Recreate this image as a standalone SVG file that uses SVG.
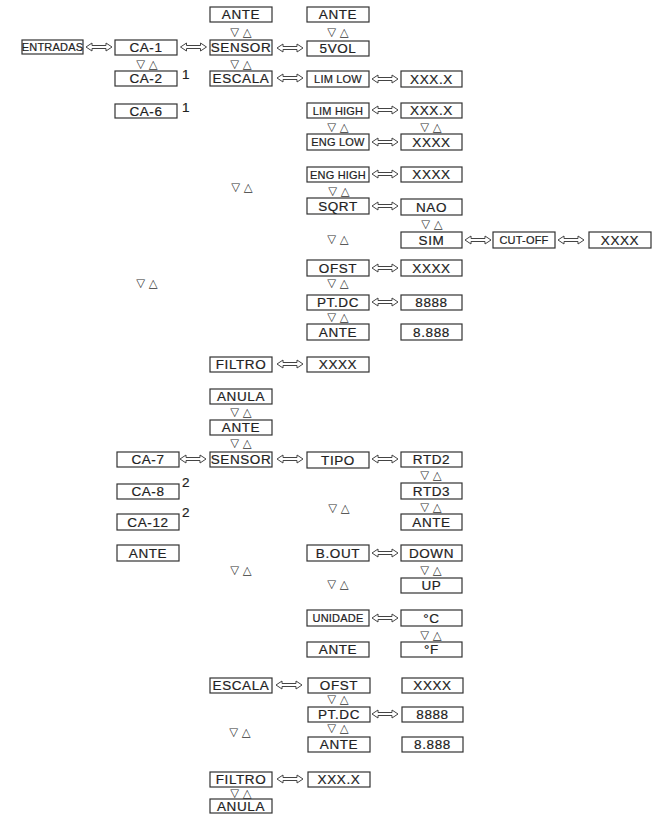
<svg xmlns="http://www.w3.org/2000/svg" xmlns:xlink="http://www.w3.org/1999/xlink" width="660" height="817" viewBox="0 0 660 817">
<style>
.b{fill:#fff;stroke:#333;stroke-width:1.2}
.t{font-family:"Liberation Sans",Arial,sans-serif;font-size:13.5px;fill:#222;stroke:#222;stroke-width:0.2px;text-anchor:middle;letter-spacing:0.6px}
.s{font-size:11px;letter-spacing:0.2px;stroke-width:0.2px}
.tri{font-family:"DejaVu Sans",sans-serif;font-size:11.5px;fill:#333;text-anchor:middle}
.sup{font-family:"Liberation Sans",Arial,sans-serif;font-size:13.5px;fill:#222;stroke:#222;stroke-width:0.2px}
.a{fill:#fff;stroke:#444;stroke-width:1}
</style>
<defs>
<path id="arr" class="a" d="M-13,0 L-7,-4 L-7,-1.5 L7,-1.5 L7,-4 L13,0 L7,4 L7,1.5 L-7,1.5 L-7,4 Z"/>
</defs>
<rect width="660" height="817" fill="#fff"/>

<g id="connectors">
<use xlink:href="#arr" transform="translate(99,47)"/>
<use xlink:href="#arr" transform="translate(193.5,47)"/>
<use xlink:href="#arr" transform="translate(290,48)"/>
<use xlink:href="#arr" transform="translate(290,78)"/>
<use xlink:href="#arr" transform="translate(385,79)"/>
<use xlink:href="#arr" transform="translate(385,110)"/>
<use xlink:href="#arr" transform="translate(385,142)"/>
<use xlink:href="#arr" transform="translate(385,174)"/>
<use xlink:href="#arr" transform="translate(385,206)"/>
<use xlink:href="#arr" transform="translate(478,240)"/>
<use xlink:href="#arr" transform="translate(571,240)"/>
<use xlink:href="#arr" transform="translate(385,268)"/>
<use xlink:href="#arr" transform="translate(385,302)"/>
<use xlink:href="#arr" transform="translate(290,364)"/>
<use xlink:href="#arr" transform="translate(193,459)"/>
<use xlink:href="#arr" transform="translate(290,459)"/>
<use xlink:href="#arr" transform="translate(385,459)"/>
<use xlink:href="#arr" transform="translate(385,553)"/>
<use xlink:href="#arr" transform="translate(385,618)"/>
<use xlink:href="#arr" transform="translate(289,685)"/>
<use xlink:href="#arr" transform="translate(385,714)"/>
<use xlink:href="#arr" transform="translate(290,779)"/>
</g>

<g id="updown">
<text class="tri" x="241" y="36">▽ △</text>
<text class="tri" x="338" y="36">▽ △</text>
<text class="tri" x="147" y="68">▽ △</text>
<text class="tri" x="241" y="68">▽ △</text>
<text class="tri" x="338" y="131">▽ △</text>
<text class="tri" x="431" y="131">▽ △</text>
<text class="tri" x="242" y="191">▽ △</text>
<text class="tri" x="339" y="195">▽ △</text>
<text class="tri" x="432" y="228">▽ △</text>
<text class="tri" x="338" y="243">▽ △</text>
<text class="tri" x="147" y="287">▽ △</text>
<text class="tri" x="338" y="287">▽ △</text>
<text class="tri" x="338" y="321">▽ △</text>
<text class="tri" x="241" y="416">▽ △</text>
<text class="tri" x="241" y="447">▽ △</text>
<text class="tri" x="431" y="479">▽ △</text>
<text class="tri" x="431" y="511">▽ △</text>
<text class="tri" x="339" y="512">▽ △</text>
<text class="tri" x="241" y="574">▽ △</text>
<text class="tri" x="431" y="574">▽ △</text>
<text class="tri" x="338" y="588">▽ △</text>
<text class="tri" x="431" y="639">▽ △</text>
<text class="tri" x="338" y="703">▽ △</text>
<text class="tri" x="338" y="732">▽ △</text>
<text class="tri" x="240" y="736">▽ △</text>
<text class="tri" x="241" y="797">▽ △</text>
</g>

<g id="n_ante1"><rect class="b" x="210" y="7" width="62" height="15"/><text class="t" x="241" y="19.4">ANTE</text></g>
<g id="n_ante2"><rect class="b" x="307" y="7" width="62" height="15"/><text class="t" x="338" y="19.4">ANTE</text></g>
<g id="n_entradas"><rect class="b" x="22" y="40" width="61" height="14"/><text class="t s" x="52.5" y="51">ENTRADAS</text></g>
<g id="n_ca1"><rect class="b" x="115" y="40" width="62" height="15"/><text class="t" x="146" y="52.4">CA-1</text></g>
<g id="n_sensor1"><rect class="b" x="210" y="40" width="62" height="15"/><text class="t" x="241" y="52.4">SENSOR</text></g>
<g id="n_5vol"><rect class="b" x="307" y="41" width="62" height="15"/><text class="t" x="338" y="53.4">5VOL</text></g>
<g id="n_ca2"><rect class="b" x="115" y="71" width="62" height="15"/><text class="t" x="146" y="83.4">CA-2</text><text class="sup" x="182" y="79">1</text></g>
<g id="n_escala1"><rect class="b" x="210" y="71" width="62" height="15"/><text class="t" x="241" y="83.4">ESCALA</text></g>
<g id="n_limlow"><rect class="b" x="307" y="71" width="62" height="16"/><text class="t s" x="338" y="83">LIM LOW</text></g>
<g id="n_limlow_v"><rect class="b" x="401" y="71" width="61" height="16"/><text class="t" x="431.5" y="83.8">XXX.X</text></g>
<g id="n_ca6"><rect class="b" x="115" y="104" width="62" height="14"/><text class="t" x="146" y="115.9">CA-6</text><text class="sup" x="182" y="112">1</text></g>
<g id="n_limhigh"><rect class="b" x="307" y="103" width="62" height="15"/><text class="t s" x="338" y="114.5">LIM HIGH</text></g>
<g id="n_limhigh_v"><rect class="b" x="401" y="103" width="61" height="15"/><text class="t" x="431.5" y="115.4">XXX.X</text></g>
<g id="n_englow"><rect class="b" x="307" y="134" width="62" height="16"/><text class="t s" x="338" y="146">ENG LOW</text></g>
<g id="n_englow_v"><rect class="b" x="401" y="134" width="61" height="16"/><text class="t" x="431.5" y="146.8">XXXX</text></g>
<g id="n_enghigh"><rect class="b" x="307" y="167" width="62" height="15"/><text class="t s" x="338" y="178.5">ENG HIGH</text></g>
<g id="n_enghigh_v"><rect class="b" x="401" y="167" width="61" height="15"/><text class="t" x="431.5" y="179.4">XXXX</text></g>
<g id="n_sqrt"><rect class="b" x="307" y="198" width="62" height="16"/><text class="t" x="338" y="210.8">SQRT</text></g>
<g id="n_nao"><rect class="b" x="401" y="199" width="61" height="16"/><text class="t" x="431.5" y="211.8">NAO</text></g>
<g id="n_sim"><rect class="b" x="401" y="232" width="61" height="16"/><text class="t" x="431.5" y="244.8">SIM</text></g>
<g id="n_cutoff"><rect class="b" x="493" y="232" width="62" height="16"/><text class="t s" x="524" y="244">CUT-OFF</text></g>
<g id="n_cutoff_v"><rect class="b" x="589" y="232" width="62" height="16"/><text class="t" x="620" y="244.8">XXXX</text></g>
<g id="n_ofst1"><rect class="b" x="307" y="260" width="62" height="16"/><text class="t" x="338" y="272.8">OFST</text></g>
<g id="n_ofst1_v"><rect class="b" x="401" y="260" width="61" height="16"/><text class="t" x="431.5" y="272.8">XXXX</text></g>
<g id="n_ptdc1"><rect class="b" x="307" y="295" width="62" height="15"/><text class="t" x="338" y="307.4">PT.DC</text></g>
<g id="n_ptdc1_v"><rect class="b" x="401" y="295" width="61" height="15"/><text class="t" x="431.5" y="307.4">8888</text></g>
<g id="n_ante3"><rect class="b" x="307" y="324" width="62" height="16"/><text class="t" x="338" y="336.8">ANTE</text></g>
<g id="n_8888b"><rect class="b" x="401" y="324" width="61" height="16"/><text class="t" x="431.5" y="336.8">8.888</text></g>
<g id="n_filtro1"><rect class="b" x="210" y="357" width="62" height="15"/><text class="t" x="241" y="369.4">FILTRO</text></g>
<g id="n_filtro1_v"><rect class="b" x="307" y="357" width="62" height="15"/><text class="t" x="338" y="369.4">XXXX</text></g>
<g id="n_anula1"><rect class="b" x="210" y="389" width="62" height="15"/><text class="t" x="241" y="401.4">ANULA</text></g>
<g id="n_ante4"><rect class="b" x="210" y="420" width="62" height="15"/><text class="t" x="241" y="432.4">ANTE</text></g>
<g id="n_ca7"><rect class="b" x="117" y="452" width="62" height="15"/><text class="t" x="148" y="464.4">CA-7</text></g>
<g id="n_sensor2"><rect class="b" x="210" y="452" width="62" height="15"/><text class="t" x="241" y="464.4">SENSOR</text></g>
<g id="n_tipo"><rect class="b" x="307" y="452" width="62" height="16"/><text class="t" x="338" y="464.8">TIPO</text></g>
<g id="n_rtd2"><rect class="b" x="401" y="452" width="61" height="15"/><text class="t" x="431.5" y="464.4">RTD2</text></g>
<g id="n_ca8"><rect class="b" x="117" y="484" width="62" height="15"/><text class="t" x="148" y="496.4">CA-8</text><text class="sup" x="182" y="487">2</text></g>
<g id="n_rtd3"><rect class="b" x="401" y="483" width="61" height="16"/><text class="t" x="431.5" y="495.8">RTD3</text></g>
<g id="n_ca12"><rect class="b" x="117" y="514" width="62" height="16"/><text class="t" x="148" y="526.8">CA-12</text><text class="sup" x="182" y="517">2</text></g>
<g id="n_ante5"><rect class="b" x="401" y="514" width="61" height="16"/><text class="t" x="431.5" y="526.8">ANTE</text></g>
<g id="n_ante6"><rect class="b" x="117" y="545" width="62" height="16"/><text class="t" x="148" y="557.8">ANTE</text></g>
<g id="n_bout"><rect class="b" x="307" y="545" width="62" height="16"/><text class="t" x="338" y="557.8">B.OUT</text></g>
<g id="n_down"><rect class="b" x="401" y="545" width="61" height="16"/><text class="t" x="431.5" y="557.8">DOWN</text></g>
<g id="n_up"><rect class="b" x="401" y="578" width="61" height="15"/><text class="t" x="431.5" y="590.4">UP</text></g>
<g id="n_unidade"><rect class="b" x="307" y="610" width="62" height="16"/><text class="t s" x="338" y="622">UNIDADE</text></g>
<g id="n_degc"><rect class="b" x="401" y="610" width="61" height="16"/><text class="t" x="431.5" y="622.8">°C</text></g>
<g id="n_ante7"><rect class="b" x="307" y="642" width="62" height="15"/><text class="t" x="338" y="654.4">ANTE</text></g>
<g id="n_degf"><rect class="b" x="401" y="642" width="61" height="15"/><text class="t" x="431.5" y="654.4">°F</text></g>
<g id="n_escala2"><rect class="b" x="210" y="678" width="62" height="15"/><text class="t" x="241" y="690.4">ESCALA</text></g>
<g id="n_ofst2"><rect class="b" x="308" y="678" width="62" height="15"/><text class="t" x="339" y="690.4">OFST</text></g>
<g id="n_ofst2_v"><rect class="b" x="402" y="678" width="61" height="15"/><text class="t" x="432.5" y="690.4">XXXX</text></g>
<g id="n_ptdc2"><rect class="b" x="308" y="707" width="62" height="15"/><text class="t" x="339" y="719.4">PT.DC</text></g>
<g id="n_ptdc2_v"><rect class="b" x="402" y="707" width="61" height="15"/><text class="t" x="432.5" y="719.4">8888</text></g>
<g id="n_ante8"><rect class="b" x="308" y="737" width="62" height="15"/><text class="t" x="339" y="749.4">ANTE</text></g>
<g id="n_8888c"><rect class="b" x="402" y="737" width="61" height="15"/><text class="t" x="432.5" y="749.4">8.888</text></g>
<g id="n_filtro2"><rect class="b" x="210" y="772" width="62" height="15"/><text class="t" x="241" y="784.4">FILTRO</text></g>
<g id="n_filtro2_v"><rect class="b" x="308" y="772" width="62" height="15"/><text class="t" x="339" y="784.4">XXX.X</text></g>
<g id="n_anula2"><rect class="b" x="210" y="799" width="62" height="14"/><text class="t" x="241" y="810.9">ANULA</text></g>
</svg>
